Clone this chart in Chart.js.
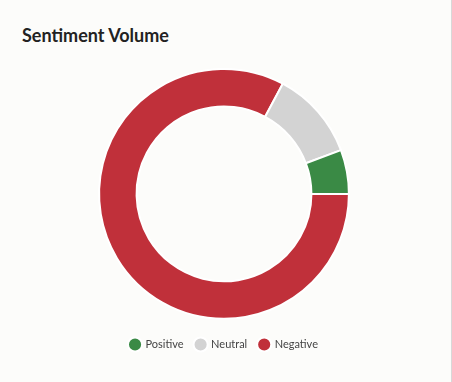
<!DOCTYPE html>
<html>
<head>
<meta charset="utf-8">
<script src="https://cdn.jsdelivr.net/npm/chart.js@4"></script>
<style>
  html, body { margin: 0; padding: 0; }
  body { width: 452px; height: 382px; background: #fcfcfa; position: relative; overflow: hidden; font-family: 'Lato', sans-serif; }
  .card { position: absolute; left: 0; top: 0; width: 451px; height: 382px; border-right: 1px solid #d8d8d8; }
  h3 { position: absolute; left: 22px; top: 24px; margin: 0; font-size: 18px; font-weight: 700; color: #222; }
  .wrap { position: absolute; left: 0; top: 58px; width: 448px; height: 302px; }
</style>
</head>
<body>
<div class="card">
  <h3>Sentiment Volume</h3>
  <div class="wrap"><canvas id="sentimentChart"></canvas></div>
</div>
<script>
// drawn clockwise from 3 o'clock, legend reversed to read Positive first
const labels = ['Negative', 'Neutral', 'Positive'];
const volumes = [82.8, 11.5, 5.7];
const colors = ['#c0303a', '#d3d3d3', '#3a8a45'];

document.addEventListener('DOMContentLoaded', function () {
    const ctx = document.getElementById('sentimentChart').getContext('2d');
    new Chart(ctx, {
        type: 'doughnut',
        data: {
            labels: labels,
            datasets: [{
                data: volumes,
                backgroundColor: colors,
                borderColor: '#ffffff',
                borderWidth: 2
            }]
        },
        options: {
            responsive: true,
            maintainAspectRatio: false,
            animation: false,
            rotation: 90,
            cutout: '70%',
            layout: { padding: { top: 10, bottom: 0 } },
            plugins: {
                legend: {
                    position: 'bottom',
                    reverse: true,
                    // empty title just pushes the legend items down a bit
                    title: { display: true, text: '', font: { size: 1 }, padding: { top: 3, bottom: 3 } },
                    labels: {
                        usePointStyle: true,
                        pointStyle: 'circle',
                        boxWidth: 10,
                        boxHeight: 10,
                        padding: 12,
                        color: '#444',
                        font: { family: 'Lato', size: 11 }
                    }
                },
                tooltip: { enabled: false }
            }
        }
    });
});
</script>
</body>
</html>
